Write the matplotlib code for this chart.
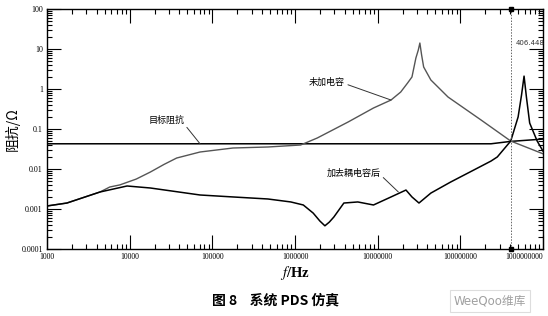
import matplotlib.pyplot as plt
import numpy as np

plt.rcParams['mathtext.fontset'] = 'stix'

# values (Hz, ohm)
freq_bare = [1.0e3, 1.74e3, 4.37e3, 5.75e3, 7.6e3, 1.2e4, 1.78e4, 2.6e4, 3.7e4, 7.1e4,
             1.78e5, 4.7e5, 1.17e6, 1.86e6, 4.4e6, 8.9e6, 1.45e7, 1.9e7, 2.3e7, 2.6e7,
             2.9e7, 3.1e7, 3.24e7, 3.4e7, 3.6e7, 4.4e7, 7.1e7, 1.78e8, 4.07e8, 1.0e9]
z_bare = [1.19e-3, 1.41e-3, 2.66e-3, 3.55e-3, 4.0e-3, 5.6e-3, 8.4e-3, 1.3e-2, 1.88e-2, 2.66e-2,
          3.35e-2, 3.55e-2, 3.98e-2, 5.96e-2, 0.15, 0.335, 0.53, 0.84, 1.41, 2.0,
          5.96, 9.4, 14.1, 7.1, 3.55, 1.68, 0.63, 0.168, 0.05, 0.024]

freq_dec = [1.0e3, 1.74e3, 4.37e3, 9.3e3, 1.78e4, 7.1e4, 1.78e5, 4.7e5, 8.9e5, 1.26e6,
            1.66e6, 2.0e6, 2.3e6, 2.6e6, 2.95e6, 3.9e6, 5.75e6, 8.9e6, 1.45e7, 2.2e7,
            2.6e7, 3.16e7, 4.4e7, 7.6e7, 1.45e8, 2.35e8, 2.8e8, 4.07e8, 5.0e8, 5.5e8,
            5.9e8, 6.3e8, 6.9e8, 8.5e8, 1.0e9]
z_dec = [1.19e-3, 1.41e-3, 2.66e-3, 3.76e-3, 3.35e-3, 2.24e-3, 2.0e-3, 1.78e-3, 1.5e-3, 1.26e-3,
         7.9e-4, 5.0e-4, 3.8e-4, 4.7e-4, 6.3e-4, 1.41e-3, 1.5e-3, 1.26e-3, 2.0e-3, 2.98e-3,
         2.0e-3, 1.41e-3, 2.5e-3, 4.7e-3, 9.4e-3, 1.58e-2, 2.0e-2, 5.0e-2, 0.2, 0.71,
         2.1, 0.63, 0.141, 0.05, 0.028]

freq_target = [1.0e3, 2.35e8, 4.07e8, 1.0e9]
z_target = [0.0427, 0.0427, 0.049, 0.056]

marker_f = 406.448e6
x_ticks = [1e3, 1e4, 1e5, 1e6, 1e7, 1e8, 1e9]
x_ticklabels = ['1000', '10000', '100000', '1000000', '10000000', '100000000', '1000000000']
y_ticks = [1e-4, 1e-3, 1e-2, 1e-1, 1, 10, 100]
y_ticklabels = ['0.0001', '0.001', '0.01', '0.1', '1', '10', '100']

fig = plt.figure(figsize=(5.48, 3.16), dpi=100)
ax = fig.add_axes([47/548, 1-249/316, 496/548, 240/316])

ax.plot(freq_target, z_target, color='black', lw=1.1)
ax.plot(freq_bare, z_bare, color='#555555', lw=1.0)
ax.plot(freq_dec, z_dec, color='black', lw=1.1)

ax.set_xscale('log')
ax.set_yscale('log')
ax.set_xlim(1e3, 1e9)
ax.set_ylim(1e-4, 100)

# marker line
ax.axvline(marker_f, color='#666666', lw=0.7, linestyle=(0, (1.5, 1.5)))
ax.plot([marker_f, marker_f], [1e-4, 100], 's', color='black', ms=3, clip_on=False)
ax.text(0.975, 0.858, '406.448', transform=ax.transAxes, ha='center', va='center',
        fontsize=5, color='#333333')

ax.set_xticks(x_ticks)
ax.set_xticklabels(x_ticklabels, fontsize=5.6, family='Liberation Serif')
ax.get_xticklabels()[-1].set_ha('right')
ax.set_yticks(y_ticks)
ax.set_yticklabels(y_ticklabels, fontsize=5.8, family='Liberation Serif')
ax.tick_params(which='both', direction='in', top=True, right=True, width=0.8)
ax.tick_params(which='major', length=10, pad=3)
ax.tick_params(which='minor', length=3.5)
for s in ax.spines.values():
    s.set_linewidth(1.0)

cjk = ['Noto Sans CJK SC', 'DejaVu Sans']
arrow = dict(arrowstyle='-', color='#333333', lw=0.7, shrinkA=0, shrinkB=0)
ax.annotate('目标阻抗', xy=(7.1e4, 0.0427), xytext=(2.8e4, 0.168), ha='center', va='center',
            fontsize=6.5, family=cjk, arrowprops=dict(arrow, relpos=(1, 0)))
ax.annotate('未加电容', xy=(1.45e7, 0.53), xytext=(2.45e6, 1.5), ha='center', va='center',
            fontsize=6.5, family=cjk, arrowprops=dict(arrow, relpos=(1, 0.3)))
ax.annotate('加去耦电容后', xy=(1.78e7, 2.66e-3), xytext=(5.1e6, 7.9e-3), ha='center', va='center',
            fontsize=6.5, family=cjk, arrowprops=dict(arrow, relpos=(1, 0.3)))

fig.text(12/548, 1-129/316, '阻抗/Ω', rotation=90, ha='center', va='center',
         fontsize=10, family=cjk)
fig.text(295/548, 1-273/316, r'$f$/Hz', ha='center', va='center', fontsize=10.5,
         family='Liberation Serif', fontweight='bold')
fig.text(276/548, 1-300/316, '图 8    系统 PDS 仿真', ha='center', va='center', fontsize=10,
         family=cjk, fontweight='bold')
fig.text(490/548, 1-301/316, 'WeeQoo维库', ha='center', va='center', fontsize=8.5,
         family=['DejaVu Sans', 'Noto Sans CJK SC'], color='#a0a0a0',
         bbox=dict(boxstyle='square,pad=0.35', fc='white', ec='#dddddd', lw=0.8))

plt.savefig('out.png', dpi=100)
